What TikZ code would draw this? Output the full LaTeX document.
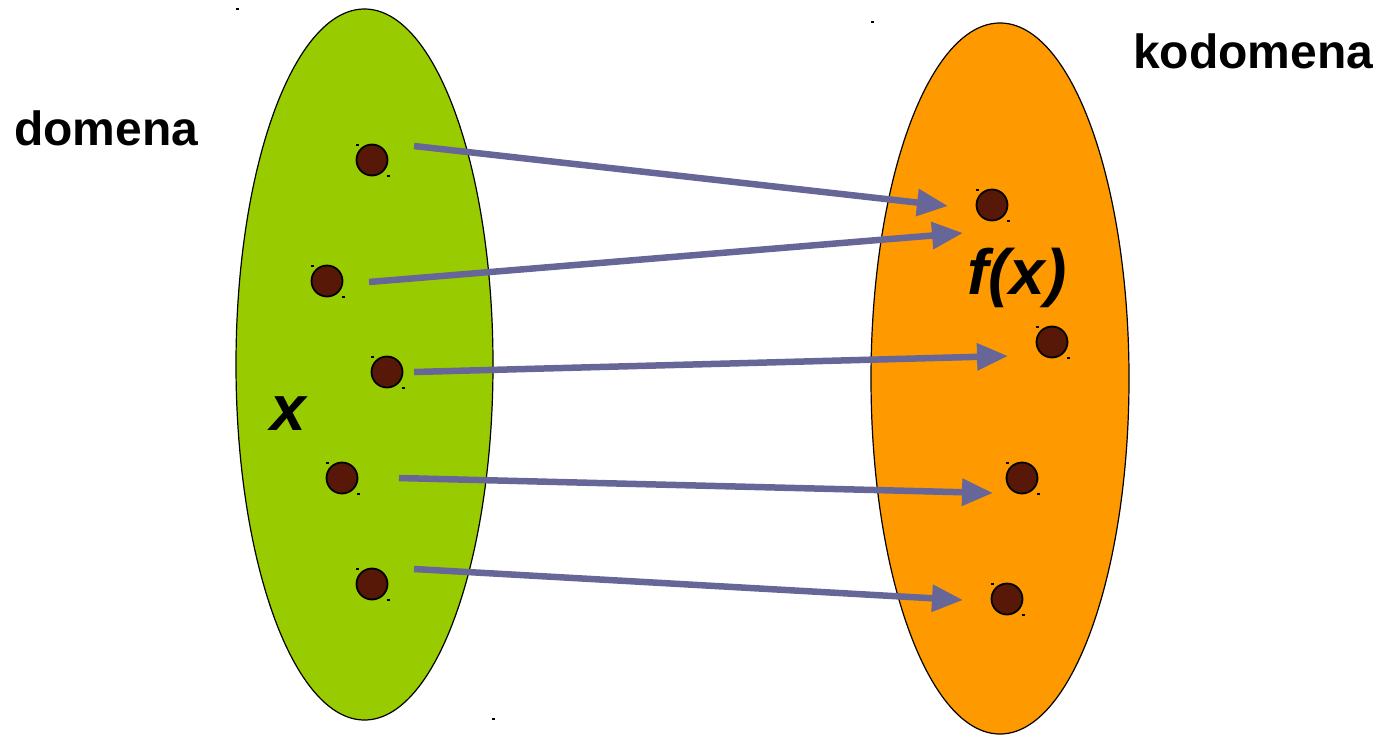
\documentclass[tikz,border=0pt]{standalone}
\usepackage{fontspec}
\setmainfont{Liberation Sans}
\usetikzlibrary{arrows.meta}
\definecolor{setgreen}{RGB}{153,204,0}
\definecolor{setorange}{RGB}{255,153,0}
\definecolor{dotbrown}{RGB}{88,24,8}
\definecolor{arrowblue}{RGB}{102,102,153}
\tikzset{
  setshape/.style={draw=black, line width=1.2pt},
  elem/.style={circle, draw=black, line width=1.8pt, fill=dotbrown, minimum size=31pt, inner sep=0pt},
  mapping/.style={draw=arrowblue, line width=6.5pt, -{Triangle[length=31pt,width=26pt]}},
  lbl/.style={font=\bfseries\fontsize{48}{50}\selectfont, anchor=base west, inner sep=0pt},
  var/.style={font=\bfseries\itshape\fontsize{64}{66}\selectfont, anchor=base, inner sep=0pt},
  tick/.style={fill=black}
}
\begin{document}
\begin{tikzpicture}[x=1pt,y=-1pt]
\useasboundingbox (0,0) rectangle (1381,734);
% sets
\filldraw[setshape, fill=setgreen] (364.5,364.5) ellipse [x radius=128.5, y radius=355.5];
\filldraw[setshape, fill=setorange] (1000,378.5) ellipse [x radius=129, y radius=355.5];
% stray marks
\foreach \p in {(237,9),(872,22),(493,719)} \fill[tick] \p ++(-1.5,-1) rectangle ++(3,2);
% elements
\node[elem] (a1) at (372,160) {};
\node[elem] (a2) at (327,281) {};
\node[elem] (a3) at (387,372) {};
\node[elem] (a4) at (342,478) {};
\node[elem] (a5) at (372,584) {};
\node[elem] (b1) at (992,205) {};
\node[elem] (b2) at (1052,342) {};
\node[elem] (b3) at (1022,478) {};
\node[elem] (b4) at (1007,599) {};
\foreach \n in {a1,a2,a3,a4,a5,b1,b2,b3,b4} {
  \fill[tick] (\n.center) ++(-16,-16) rectangle ++(3,2);
  \fill[tick] (\n.center) ++(15,15) rectangle ++(3,2);
}
% arrow end points
\coordinate (s1) at (414,146);  \coordinate (t1) at (948,206);
\coordinate (s2) at (369,282);  \coordinate (t2) at (963,233);
\coordinate (s3) at (414,372);  \coordinate (t3) at (1008,356);
\coordinate (s4) at (399,478);  \coordinate (t4) at (993,493);
\coordinate (s5) at (414,569);  \coordinate (t5) at (963,600);
\foreach \i in {1,...,5} \draw[mapping] (s\i) -- (t\i);
% labels
\node[lbl] (dom) at (14,145) {domena};
\node[lbl] (kod) at (1133,68) {kodomena};
\node[var] (x) at (288,430) {x};
\node[var] (fx) at (1017,294) {f(x)};
\end{tikzpicture}
\end{document}
